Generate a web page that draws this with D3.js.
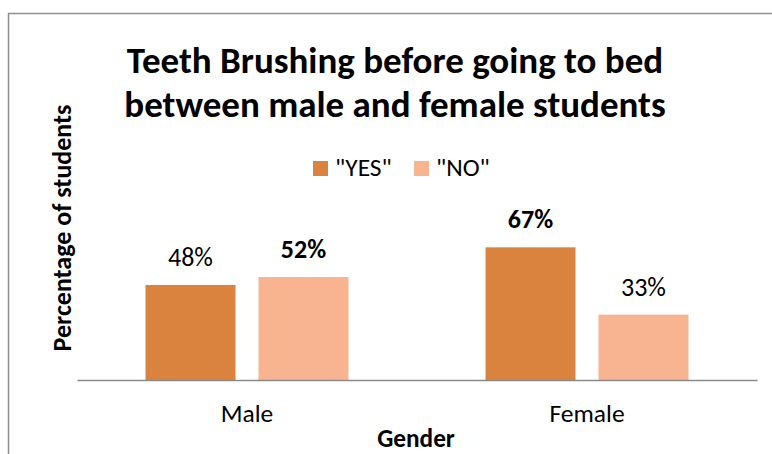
<!DOCTYPE html>
<html>
<head>
<meta charset="utf-8">
<script src="https://cdn.jsdelivr.net/npm/d3@7"></script>
<style>
  html, body { margin: 0; padding: 0; background: #fff; }
  svg { display: block; }
  text { font-family: Carlito, Lato, "Open Sans", sans-serif; fill: #000; }
</style>
</head>
<body>
<div id="chart"></div>
<script>
// Chart data
const categories = ["Male", "Female"];
const seriesNames = ["\"YES\"", "\"NO\""];
const yesValues = [48, 67];
const noValues = [52, 33];
const seriesColors = ["#D9833F", "#F8B490"];
const titleLines = ["Teeth Brushing before going to bed", "between male and female students"];
const xAxisTitle = "Gender";
const yAxisTitle = "Percentage of students";

const W = 772, H = 454;
const FONT = "Carlito, Lato, 'Open Sans', sans-serif";
const svg = d3.select("#chart").append("svg").attr("width", W).attr("height", H);

// Outer frame (top and left edges visible)
svg.append("path")
  .attr("d", `M8.5,${H} V13.5 H${W}`)
  .attr("fill", "none").attr("stroke", "#8f8f8f").attr("stroke-width", 1.5);

// Scales
const x0 = d3.scaleBand().domain(categories).range([77, 757]);
const x1 = d3.scaleBand().domain(seriesNames).range([68.5, 271.5]).paddingInner(23 / 113);
const y = d3.scaleLinear().domain([0, 100]).range([380, 182]);
const color = d3.scaleOrdinal().domain(seriesNames).range(seriesColors);

const rows = categories.map((c, i) => ({
  category: c,
  values: [
    { series: seriesNames[0], value: yesValues[i], bold: yesValues[i] > noValues[i] },
    { series: seriesNames[1], value: noValues[i], bold: noValues[i] > yesValues[i] }
  ]
}));

// Title, two lines
svg.append("g").selectAll("text").data(titleLines).join("text")
  .attr("x", 395).attr("y", (d, i) => 73 + i * 44)
  .attr("text-anchor", "middle")
  .style("font-size", "37px").style("font-weight", "bold")
  .text(d => d);

// Legend
const legend = svg.append("g").attr("transform", "translate(313,161)");
const legendX = [0, 101];
seriesNames.forEach((s, i) => {
  const g = legend.append("g").attr("transform", `translate(${legendX[i]},0)`);
  g.append("rect").attr("width", 15).attr("height", 15).attr("fill", color(s));
  g.append("text").attr("x", 22).attr("y", 15)
    .style("font-size", "25.5px").text(s);
});

// Bars
const groups = svg.append("g").selectAll("g").data(rows).join("g")
  .attr("transform", d => `translate(${x0(d.category)},0)`);

groups.selectAll("rect").data(d => d.values).join("rect")
  .attr("x", d => x1(d.series))
  .attr("y", d => y(d.value))
  .attr("width", x1.bandwidth())
  .attr("height", d => y(0) - y(d.value))
  .attr("fill", d => color(d.series));

// Value labels
groups.selectAll("text.val").data(d => d.values).join("text")
  .attr("class", "val")
  .attr("x", d => x1(d.series) + x1.bandwidth() / 2)
  .attr("y", d => y(d.value) - 19)
  .attr("text-anchor", "middle")
  .style("font-size", "26px")
  .style("font-weight", d => d.bold ? "bold" : "normal")
  .text(d => d.value + "%");

// X axis
const xAxis = d3.axisBottom(x0).tickSize(0).tickPadding(24);
const gx = svg.append("g").attr("transform", "translate(0,380)").call(xAxis);
gx.select(".domain").attr("stroke", "#8a8a8a").attr("stroke-width", 1.5);
gx.selectAll(".tick text")
  .style("font-family", FONT)
  .style("font-size", "25.5px").attr("fill", "#000");

// Axis titles
svg.append("text")
  .attr("x", 416).attr("y", 447)
  .attr("text-anchor", "middle")
  .style("font-size", "25.3px").style("font-weight", "bold")
  .text(xAxisTitle);

svg.append("text")
  .attr("transform", "translate(71,228) rotate(-90)")
  .attr("text-anchor", "middle")
  .style("font-size", "26px").style("font-weight", "bold")
  .text(yAxisTitle);
</script>
</body>
</html>
